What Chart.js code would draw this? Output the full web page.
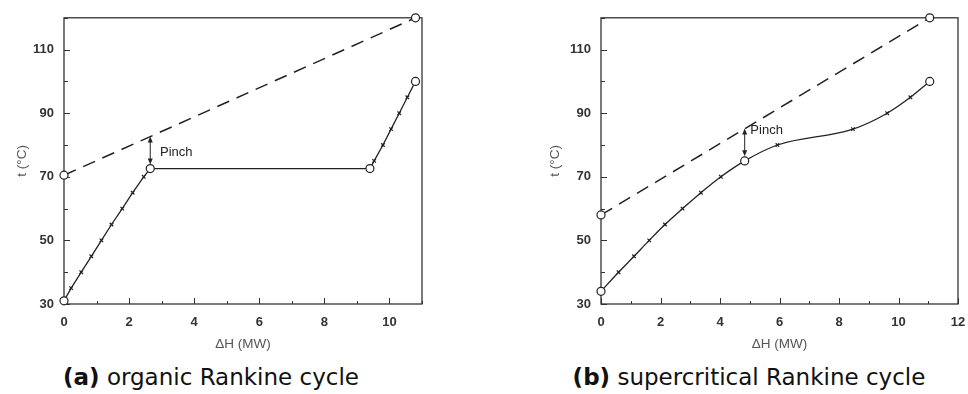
<!DOCTYPE html>
<html>
<head>
<meta charset="utf-8">
<script src="https://cdn.jsdelivr.net/npm/chart.js@4.4.0/dist/chart.umd.min.js"></script>
<style>
body { margin: 0; width: 968px; height: 394px; overflow: hidden; background: #fff; position: relative; }
canvas { position: absolute; top: 0; }
#orcChart { left: 0; }
#scChart { left: 520px; }
.caption { position: absolute; top: 364px; font-family: "DejaVu Sans", sans-serif; font-size: 23px; line-height: 27px; color: #111; transform: translateX(-50%); white-space: nowrap; }
.caption b { font-weight: 700; }
</style>
</head>
<body>
<canvas id="orcChart" width="440" height="360"></canvas>
<canvas id="scChart" width="460" height="360"></canvas>
<div class="caption" style="left:211px"><b>(a)</b> organic Rankine cycle</div>
<div class="caption" style="left:749px"><b>(b)</b> supercritical Rankine cycle</div>
<script>
// (a) organic Rankine cycle
const orcHotH = [0, 10.8];
const orcHotT = [70.5, 120];
const orcColdH = [0, 0.22, 0.53, 0.84, 1.15, 1.46, 1.79, 2.11, 2.45, 2.65, 9.4, 9.53, 9.8, 10.05, 10.3, 10.55, 10.8];
const orcColdT = [31, 35, 40, 45, 50, 55, 60, 65, 70, 72.6, 72.6, 75, 80, 85, 90, 95, 100];
const orcCircles = [0, 9, 10, 16];
const orcPinchH = 2.65;
const orcPinchT = [72.6, 82.7];

// (b) supercritical Rankine cycle
const scHotH = [0, 11.05];
const scHotT = [58, 120];
const scColdH = [0, 0.59, 1.11, 1.62, 2.15, 2.74, 3.36, 4.03, 4.83, 5.93, 8.47, 9.62, 10.4, 11.05];
const scColdT = [34, 40, 45, 50, 55, 60, 65, 70, 75, 80, 85, 90, 95, 100];
const scCircles = [0, 8, 13];
const scPinchH = 4.83;
const scPinchT = [75.2, 85.2];

const tempTickLabels = [30, 50, 70, 90, 110];
const orcHTickLabels = [0, 2, 4, 6, 8, 10];
const scHTickLabels = [0, 2, 4, 6, 8, 10, 12];

const ink = '#222';
const tickFont = {family: 'Liberation Sans', size: 13, weight: 'bold'};
const titleFont = {family: 'Liberation Sans', size: 13.5};

function toPoints(xs, ys) {
    return xs.map((x, i) => ({x: x, y: ys[i]}));
}

function markerStyles(count, circles) {
    const styles = [];
    for (let i = 0; i < count; i++) {
        styles.push(circles.includes(i) ? 'circle' : 'crossRot');
    }
    return styles;
}

function arrowHead(ctx, x, y, dir) {
    ctx.beginPath();
    ctx.moveTo(x, y);
    ctx.lineTo(x - 2.5, y - dir * 6);
    ctx.lineTo(x + 2.5, y - dir * 6);
    ctx.closePath();
    ctx.fill();
}

// box frame with inward ticks, and the pinch arrow
const framePlugin = {
    id: 'frame',
    beforeDatasetsDraw(chart) {
        const {ctx, chartArea: a, scales: {x, y}} = chart;
        ctx.save();
        ctx.strokeStyle = '#333';
        ctx.lineWidth = 1.3;
        ctx.strokeRect(a.left, a.top, a.right - a.left, a.bottom - a.top);
        ctx.lineWidth = 1;
        ctx.beginPath();
        x.ticks.forEach(t => {
            const px = Math.round(x.getPixelForValue(t.value)) + 0.5;
            const len = t.label !== '' ? 6 : 3;
            ctx.moveTo(px, a.bottom);
            ctx.lineTo(px, a.bottom - len);
        });
        y.ticks.forEach(t => {
            const py = Math.round(y.getPixelForValue(t.value)) + 0.5;
            const len = t.label !== '' ? 6 : 4;
            ctx.moveTo(a.left, py);
            ctx.lineTo(a.left + len, py);
        });
        ctx.stroke();
        ctx.restore();
    },
    afterDatasetsDraw(chart, args, opts) {
        const {ctx, scales: {x, y}} = chart;
        const px = x.getPixelForValue(opts.h);
        const y0 = y.getPixelForValue(opts.t[0]) - 4;
        const y1 = y.getPixelForValue(opts.t[1]);
        ctx.save();
        ctx.strokeStyle = ink;
        ctx.fillStyle = ink;
        ctx.lineWidth = 1;
        ctx.beginPath();
        ctx.moveTo(px, y0 - 4);
        ctx.lineTo(px, y1 + 4);
        ctx.stroke();
        arrowHead(ctx, px, y1, -1);
        arrowHead(ctx, px, y0, 1);
        ctx.font = '13px "Liberation Sans"';
        ctx.textBaseline = 'middle';
        ctx.fillText('Pinch', x.getPixelForValue(opts.labelH), y.getPixelForValue(opts.labelT));
        ctx.restore();
    }
};

function makeChart(id, cfg) {
    const coldStyles = markerStyles(cfg.coldH.length, cfg.circles);
    return new Chart(document.getElementById(id), {
        type: 'line',
        data: {
            datasets: [{
                data: toPoints(cfg.hotH, cfg.hotT),
                borderColor: ink,
                borderWidth: 1.5,
                borderDash: [13, 8],
                pointStyle: 'circle',
                pointRadius: 4,
                pointBorderWidth: 1.2,
                pointBorderColor: ink,
                pointBackgroundColor: '#fff',
                clip: false
            }, {
                data: toPoints(cfg.coldH, cfg.coldT),
                borderColor: ink,
                borderWidth: 1.3,
                tension: 0,
                cubicInterpolationMode: cfg.smooth ? 'monotone' : 'default',
                pointStyle: coldStyles,
                pointRadius: coldStyles.map(s => s === 'circle' ? 4 : 2.5),
                pointBorderWidth: 1.2,
                pointBorderColor: ink,
                pointBackgroundColor: '#fff',
                clip: false
            }]
        },
        options: {
            responsive: false,
            animation: false,
            layout: {padding: {left: 0, top: cfg.padTop, right: cfg.padRight, bottom: 0}},
            plugins: {
                legend: {display: false},
                tooltip: {enabled: false},
                frame: {h: cfg.pinchH, t: cfg.pinchT, labelH: cfg.labelH, labelT: cfg.labelT}
            },
            scales: {
                x: {
                    type: 'linear', min: 0, max: cfg.hMax,
                    grid: {display: false, drawTicks: false},
                    border: {display: false},
                    ticks: {
                        stepSize: 1, autoSkip: false, maxRotation: 0, padding: 11,
                        color: '#333', font: tickFont,
                        callback: v => cfg.hLabels.includes(v) ? String(v) : ''
                    },
                    title: {display: true, text: 'ΔH (MW)', color: '#555', font: titleFont, padding: {top: 0, bottom: 8}},
                    afterFit: s => { s.height = 56; }
                },
                y: {
                    type: 'linear', min: 30, max: 120,
                    grid: {display: false, drawTicks: false},
                    border: {display: false},
                    ticks: {
                        stepSize: 10, autoSkip: false, padding: 10,
                        color: '#333', font: tickFont,
                        callback: v => tempTickLabels.includes(v) ? String(v) : ''
                    },
                    title: {display: true, text: 't (°C)', color: '#555', font: titleFont, padding: {top: cfg.yTitlePad, bottom: 0}},
                    afterFit: s => { s.width = cfg.yWidth; }
                }
            }
        },
        plugins: [framePlugin]
    });
}

makeChart('orcChart', {
    hotH: orcHotH, hotT: orcHotT, coldH: orcColdH, coldT: orcColdT, circles: orcCircles,
    pinchH: orcPinchH, pinchT: orcPinchT, labelH: 2.95, labelT: 77.8,
    hMax: 11, hLabels: orcHTickLabels, smooth: false,
    yWidth: 64, yTitlePad: 14, padTop: 12, padRight: 18
});

makeChart('scChart', {
    hotH: scHotH, hotT: scHotT, coldH: scColdH, coldT: scColdT, circles: scCircles,
    pinchH: scPinchH, pinchT: scPinchT, labelH: 5.02, labelT: 84.5,
    hMax: 12, hLabels: scHTickLabels, smooth: true,
    yWidth: 81, yTitlePad: 27, padTop: 11, padRight: 22
});
</script>
</body>
</html>
